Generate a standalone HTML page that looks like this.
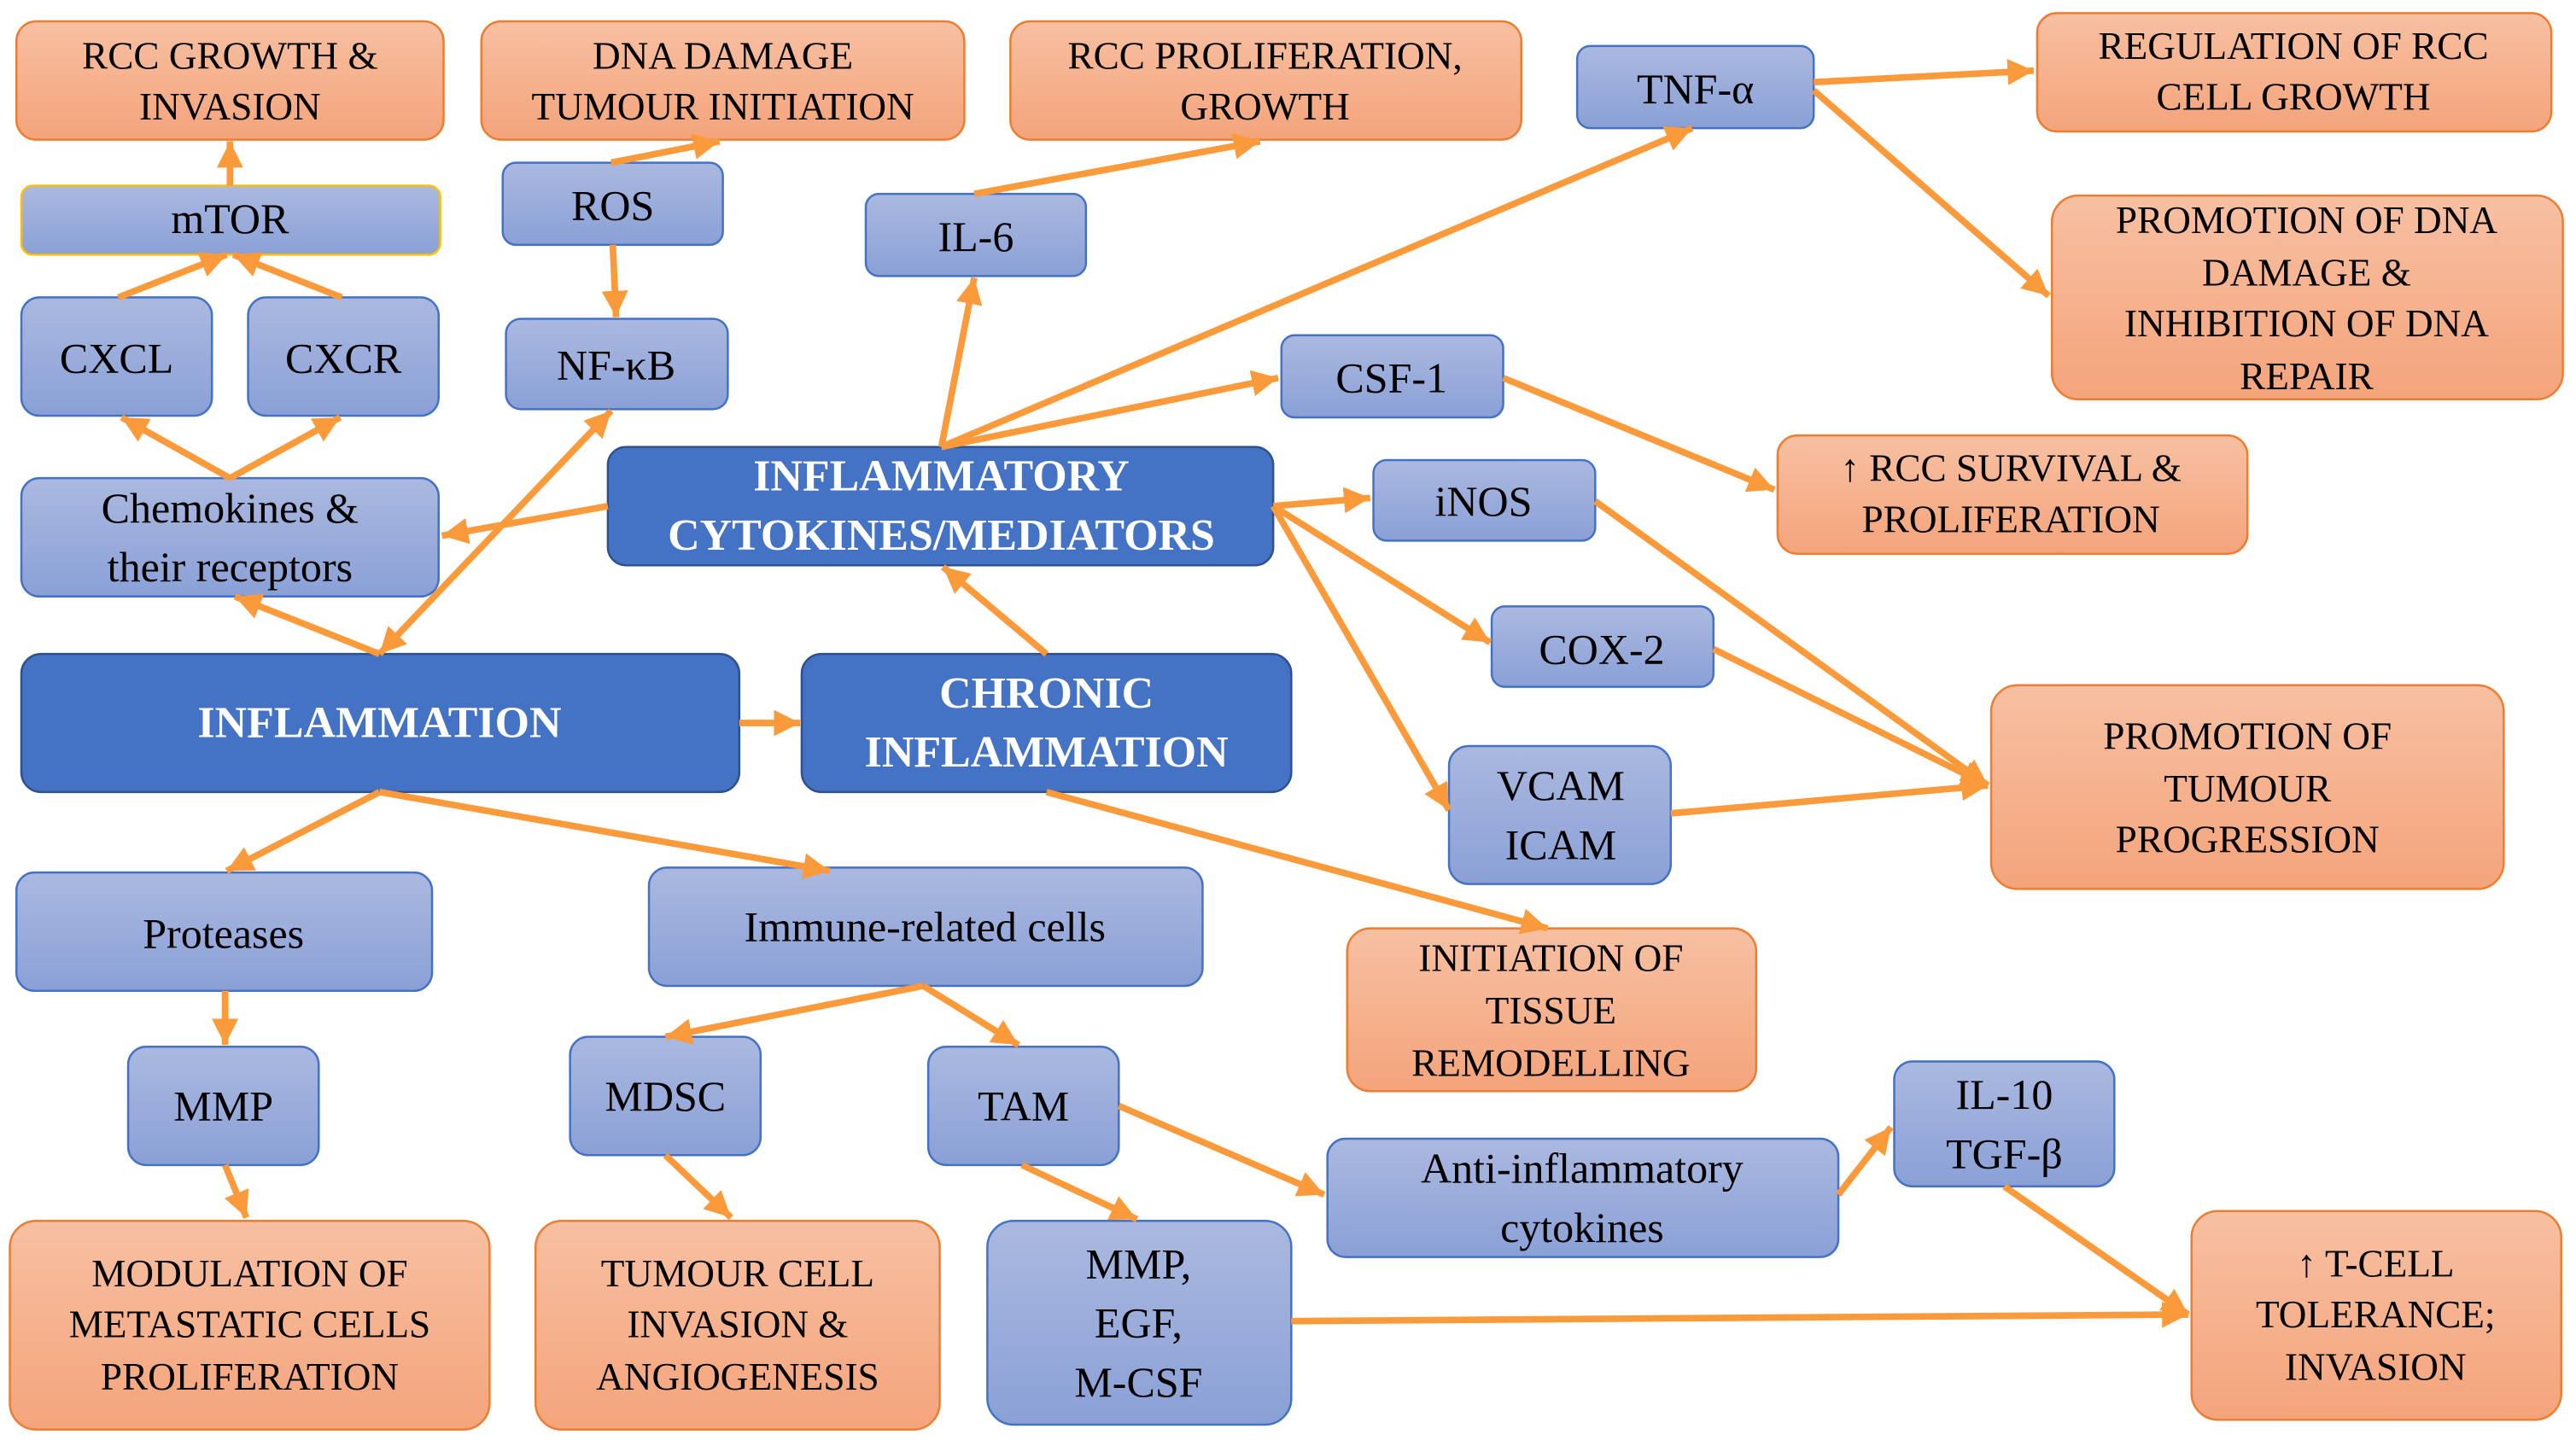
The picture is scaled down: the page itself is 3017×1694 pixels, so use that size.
<!DOCTYPE html>
<html><head><meta charset="utf-8"><style>
html,body{margin:0;padding:0;background:#fff}
svg{display:block}
text{text-anchor:middle;dominant-baseline:central;font-family:"Liberation Serif","Times New Roman",serif}
.o{fill:url(#go);stroke:#ed7d31;stroke-width:1.3}
.b{fill:url(#gb);stroke:#4472c4;stroke-width:1.3}
.d{fill:#4472c4;stroke:#2f528f;stroke-width:1.3}
.to{font-size:23.5px;fill:#000}
.tb{font-size:26px;fill:#000}
.td{font-size:27px;fill:#fff;font-weight:bold}
.a{stroke:#fa9a3a;stroke-width:4;fill:none;marker-end:url(#ah)}
.a2{stroke:#fa9a3a;stroke-width:4;fill:none;marker-end:url(#ah);marker-start:url(#as)}
</style></head><body>
<svg width="3017" height="1694" viewBox="0 0 1568 880" preserveAspectRatio="none" xmlns="http://www.w3.org/2000/svg">
<defs>
<linearGradient id="go" x1="0" y1="0" x2="0" y2="1"><stop offset="0" stop-color="#f7c0a2"/><stop offset="1" stop-color="#f4a47b"/></linearGradient>
<linearGradient id="gb" x1="0" y1="0" x2="0" y2="1"><stop offset="0" stop-color="#abb9e0"/><stop offset="1" stop-color="#8aa0d6"/></linearGradient>
<marker id="ah" markerUnits="userSpaceOnUse" markerWidth="18" markerHeight="16" refX="16" refY="8" orient="auto"><path d="M0,0 L16,8 L0,16 Z" fill="#fa9a3a"/></marker>
<marker id="as" markerUnits="userSpaceOnUse" markerWidth="18" markerHeight="16" refX="2" refY="8" orient="auto"><path d="M18,0 L2,8 L18,16 Z" fill="#fa9a3a"/></marker>
</defs>

<rect class="o" x="10" y="13" width="260" height="72" rx="12"/>
<text class="to" x="140" y="34">RCC GROWTH &amp;</text><text class="to" x="140" y="65">INVASION</text>
<rect class="o" x="293" y="13" width="294" height="72" rx="12"/>
<text class="to" x="440" y="34">DNA DAMAGE</text><text class="to" x="440" y="65">TUMOUR INITIATION</text>
<rect class="o" x="615" y="13" width="311" height="72" rx="12"/>
<text class="to" x="770" y="34">RCC PROLIFERATION,</text><text class="to" x="770" y="65">GROWTH</text>
<rect class="o" x="1240" y="8" width="313" height="72" rx="12"/>
<text class="to" x="1396" y="28">REGULATION  OF RCC</text><text class="to" x="1396" y="59">CELL GROWTH</text>
<rect class="o" x="1249" y="119" width="311" height="124" rx="16"/>
<text class="to" x="1404" y="134">PROMOTION  OF DNA</text><text class="to" x="1404" y="166">DAMAGE  &amp;</text><text class="to" x="1404" y="197">INHIBITION  OF DNA</text><text class="to" x="1404" y="229">REPAIR</text>
<rect class="o" x="1082" y="265" width="286" height="72" rx="12"/>
<text class="to" x="1224" y="285">↑ RCC SURVIVAL  &amp;</text><text class="to" x="1224" y="316">PROLIFERATION</text>
<rect class="o" x="1212" y="417" width="312" height="124" rx="16"/>
<text class="to" x="1368" y="448">PROMOTION  OF</text><text class="to" x="1368" y="480">TUMOUR</text><text class="to" x="1368" y="511">PROGRESSION</text>
<rect class="o" x="820" y="565" width="249" height="99" rx="14"/>
<text class="to" x="944" y="583">INITIATION  OF</text><text class="to" x="944" y="615">TISSUE</text><text class="to" x="944" y="647">REMODELLING</text>
<rect class="o" x="6" y="743" width="292" height="127" rx="16"/>
<text class="to" x="152" y="775">MODULATION  OF</text><text class="to" x="152" y="806">METASTATIC CELLS</text><text class="to" x="152" y="838">PROLIFERATION</text>
<rect class="o" x="326" y="743" width="246" height="127" rx="16"/>
<text class="to" x="449" y="775">TUMOUR CELL</text><text class="to" x="449" y="806">INVASION  &amp;</text><text class="to" x="449" y="838">ANGIOGENESIS</text>
<rect class="o" x="1334" y="737" width="225" height="127" rx="16"/>
<text class="to" x="1446" y="769">↑ T-CELL</text><text class="to" x="1446" y="800">TOLERANCE;</text><text class="to" x="1446" y="832">INVASION</text>

<rect class="b" x="13" y="113" width="255" height="42" rx="7" style="stroke:#ffc000"/>
<text class="tb" x="140" y="133">mTOR</text>
<rect class="b" x="306" y="99" width="134" height="50" rx="8"/><text class="tb" x="373" y="125">ROS</text>
<rect class="b" x="13" y="181" width="116" height="72" rx="11"/><text class="tb" x="71" y="218">CXCL</text>
<rect class="b" x="151" y="181" width="116" height="72" rx="11"/><text class="tb" x="209" y="218">CXCR</text>
<rect class="b" x="308" y="194" width="135" height="55" rx="9"/><text class="tb" x="375" y="222">NF-κB</text>
<rect class="b" x="527" y="118" width="134" height="50" rx="8"/><text class="tb" x="594" y="144">IL-6</text>
<rect class="b" x="960" y="28" width="144" height="50" rx="8"/><text class="tb" x="1032" y="54">TNF-α</text>
<rect class="b" x="780" y="204" width="135" height="50" rx="8"/><text class="tb" x="847" y="230">CSF-1</text>
<rect class="b" x="13" y="291" width="254" height="72" rx="11"/>
<text class="tb" x="140" y="309">Chemokines &amp;</text><text class="tb" x="140" y="345">their receptors</text>
<rect class="b" x="836" y="280" width="135" height="49" rx="8"/><text class="tb" x="903" y="305">iNOS</text>
<rect class="b" x="908" y="369" width="135" height="49" rx="8"/><text class="tb" x="975" y="395">COX-2</text>
<rect class="b" x="882" y="454" width="135" height="84" rx="12"/>
<text class="tb" x="950" y="478">VCAM</text><text class="tb" x="950" y="514">ICAM</text>
<rect class="b" x="10" y="531" width="253" height="72" rx="11"/><text class="tb" x="136" y="568">Proteases</text>
<rect class="b" x="395" y="528" width="337" height="72" rx="11"/><text class="tb" x="563" y="564">Immune-related cells</text>
<rect class="b" x="78" y="637" width="116" height="72" rx="11"/><text class="tb" x="136" y="673">MMP</text>
<rect class="b" x="347" y="631" width="116" height="72" rx="11"/><text class="tb" x="405" y="667">MDSC</text>
<rect class="b" x="565" y="637" width="116" height="72" rx="11"/><text class="tb" x="623" y="673">TAM</text>
<rect class="b" x="808" y="693" width="311" height="72" rx="11"/>
<text class="tb" x="963" y="711">Anti-inflammatory</text><text class="tb" x="963" y="747">cytokines</text>
<rect class="b" x="1153" y="646" width="134" height="76" rx="11"/>
<text class="tb" x="1220" y="666">IL-10</text><text class="tb" x="1220" y="702">TGF-β</text>
<rect class="b" x="601" y="743" width="185" height="124" rx="16"/>
<text class="tb" x="693" y="769">MMP,</text><text class="tb" x="693" y="805">EGF,</text><text class="tb" x="693" y="841">M-CSF</text>

<rect class="d" x="370" y="272" width="405" height="72" rx="11"/>
<text class="td" x="573" y="290">INFLAMMATORY</text><text class="td" x="573" y="326">CYTOKINES/MEDIATORS</text>
<rect class="d" x="13" y="398" width="437" height="84" rx="12"/>
<text class="td" x="231" y="440">INFLAMMATION</text>
<rect class="d" x="488" y="398" width="298" height="84" rx="12"/>
<text class="td" x="637" y="422">CHRONIC</text><text class="td" x="637" y="458">INFLAMMATION</text>

<path class="a" d="M140,113 L140,86"/>
<path class="a" d="M72,181 L138,155"/>
<path class="a" d="M208,181 L142,155"/>
<path class="a" d="M140,291 L74,254"/>
<path class="a" d="M140,291 L207,254"/>
<path class="a" d="M231,398 L143,363"/>
<path class="a2" d="M231,398 L372,250"/>
<path class="a" d="M372,99 L438,86"/>
<path class="a" d="M373,149 L375,193"/>
<path class="a" d="M370,308 L269,326"/>
<path class="a" d="M573,272 L593,169"/>
<path class="a" d="M573,272 L1030,78"/>
<path class="a" d="M573,272 L778,230"/>
<path class="a" d="M593,118 L767,86"/>
<path class="a" d="M1104,50 L1238,43"/>
<path class="a" d="M1104,55 L1247,180"/>
<path class="a" d="M915,230 L1080,298"/>
<path class="a" d="M775,308 L834,303"/>
<path class="a" d="M775,308 L907,391"/>
<path class="a" d="M775,308 L882,493"/>
<path class="a" d="M971,305 L1210,478"/>
<path class="a" d="M1043,395 L1210,478"/>
<path class="a" d="M1017,495 L1210,478"/>
<path class="a" d="M637,398 L574,345"/>
<path class="a" d="M450,440 L487,440"/>
<path class="a" d="M231,482 L138,530"/>
<path class="a" d="M231,482 L505,530"/>
<path class="a" d="M637,482 L942,565"/>
<path class="a" d="M137,603 L137,636"/>
<path class="a" d="M137,709 L150,741"/>
<path class="a" d="M562,600 L405,631"/>
<path class="a" d="M562,600 L620,636"/>
<path class="a" d="M405,703 L445,741"/>
<path class="a" d="M622,709 L692,742"/>
<path class="a" d="M681,673 L806,727"/>
<path class="a" d="M1119,727 L1151,686"/>
<path class="a" d="M1220,722 L1332,800"/>
<path class="a" d="M786,804 L1332,800"/>
</svg>
</body></html>
